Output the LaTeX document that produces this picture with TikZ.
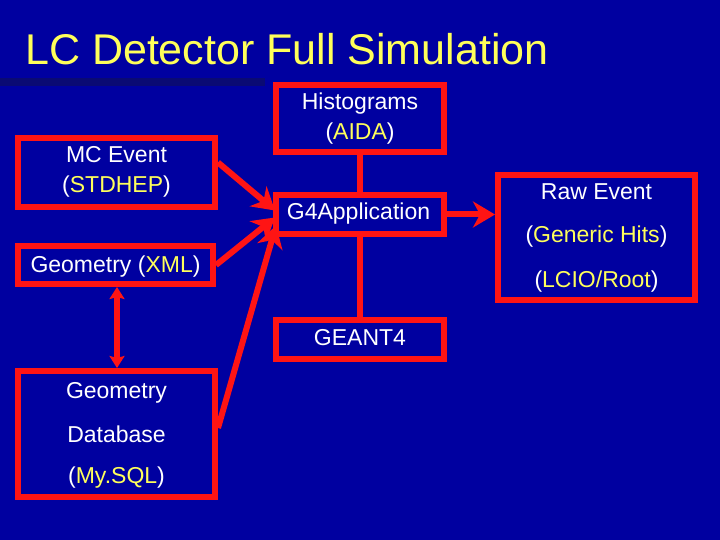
\documentclass[tikz,border=0pt]{standalone}
\usepackage{fontspec}
\setmainfont{Liberation Sans}
\usetikzlibrary{arrows.meta}
\definecolor{bg}{RGB}{0,0,160}
\definecolor{shadowline}{RGB}{10,10,115}
\definecolor{ured}{RGB}{255,20,20}
\definecolor{uyel}{RGB}{255,255,90}
\tikzset{
  box/.style={draw=ured, line width=6pt, rectangle, inner sep=0pt},
  txt/.style={text=white, anchor=base, inner sep=0pt, font=\fontsize{23}{27}\selectfont},
  conn/.style={draw=ured, line width=6pt},
  bigarrow/.style={conn, -{Stealth[length=22pt,width=26pt,inset=7pt]}},
  dblarrow/.style={conn, {Stealth[length=12pt,width=15pt,inset=2pt]}-{Stealth[length=12pt,width=15pt,inset=2pt]}},
}
\newcommand{\hl}[1]{\textcolor{uyel}{#1}}
\begin{document}
\begin{tikzpicture}[x=1pt,y=-1pt]
\fill[bg] (0,0) rectangle (720,540);
\useasboundingbox (0,0) rectangle (720,540);
\fill[shadowline] (0,78) rectangle (265,86);
\node[anchor=base west, inner sep=0pt, text=uyel, font=\fontsize{43}{50}\selectfont] (title) at (25,65) {LC Detector Full Simulation};

% boxes
\node[box, minimum width=197pt, minimum height=69pt] (mc) at (116.5,172.5) {};
\node[box, minimum width=195pt, minimum height=38pt] (xml) at (115.5,265) {};
\node[box, minimum width=168pt, minimum height=67pt] (hist) at (360,118.5) {};
\node[box, minimum width=168pt, minimum height=39pt] (g4) at (360,214.5) {};
\node[box, minimum width=197pt, minimum height=125pt] (raw) at (596.5,237.5) {};
\node[box, minimum width=168pt, minimum height=39pt] (geant) at (360,339.5) {};
\node[box, minimum width=197pt, minimum height=126pt] (db) at (116.5,434) {};

% texts
\node[txt] (mc1) at (116.5,163) {MC Event};
\node[txt] (mc2) at (116.5,193) {(\hl{STDHEP})};
\node[txt] (xml1) at (115.5,272) {Geometry (\hl{XML})};
\node[txt] (hist1) at (360,110) {Histograms};
\node[txt] (hist2) at (360,140) {(\hl{AIDA})};
\node[txt] (g41) at (358.5,219) {G4Application};
\node[txt] (raw1) at (596.5,200) {Raw Event};
\node[txt] (raw2) at (596.5,243) {(\hl{Generic Hits})};
\node[txt] (raw3) at (596.5,287) {(\hl{LCIO/Root})};
\node[txt] (geant1) at (360,345) {GEANT4};
\node[txt] (db1) at (116.5,398) {Geometry};
\node[txt] (db2) at (116.5,442) {Database};
\node[txt] (db3) at (116.5,483) {(\hl{My.SQL})};

% connectors
\draw[conn] (hist.south) -- (g4.north);
\draw[conn] (g4.south) -- (geant.north);
\draw[bigarrow] (g4.east) -- (g4.east -| raw.west);
\draw[bigarrow] ([yshift=10pt]mc.east) -- ([xshift=2pt,yshift=4pt]g4.west);
\draw[bigarrow] (xml.east) -- ([xshift=2pt,yshift=-3pt]g4.west);
\draw[bigarrow] ([yshift=6pt]db.east) -- ([xshift=3pt,yshift=-11pt]g4.west);
\draw[dblarrow] ([xshift=1.5pt]xml.south) -- ([xshift=1.5pt]xml.south |- db.north);
\end{tikzpicture}
\end{document}
